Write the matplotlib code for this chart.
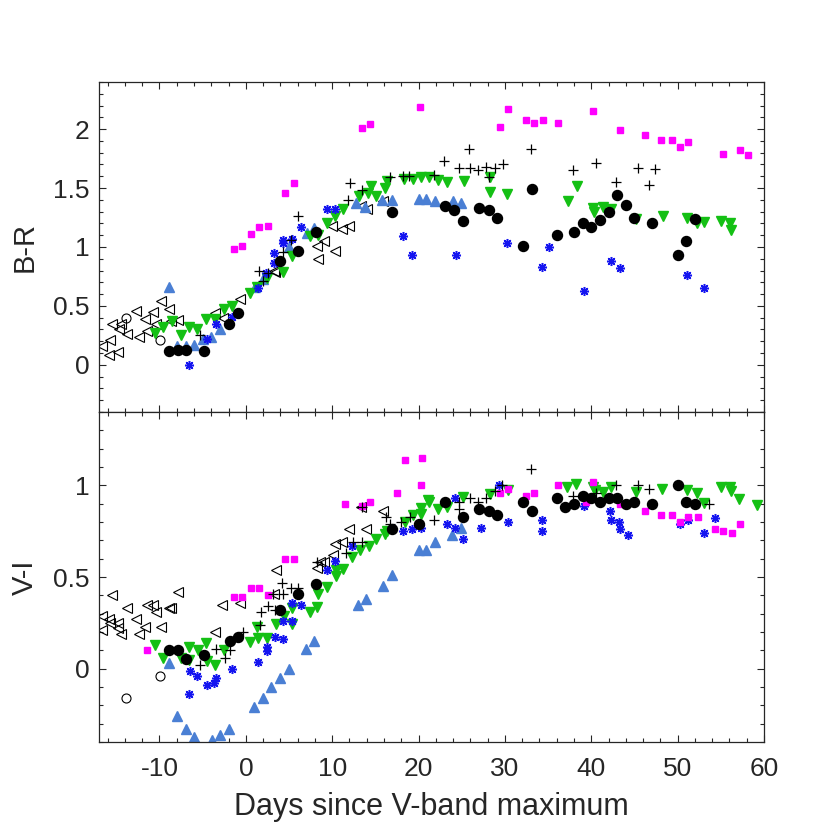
import matplotlib
matplotlib.use('Agg')
import matplotlib.pyplot as plt
from matplotlib.ticker import MultipleLocator, FormatStrFormatter

plt.rcParams['font.family'] = ['Liberation Sans', 'DejaVu Sans']
plt.rcParams['axes.unicode_minus'] = False

# ---- B-R panel ----
br_oc_x = [-13.9, -9.9]
br_oc_y = [0.40, 0.21]

br_lt_x = [-16.6, -15.7, -15.8, -14.8, -15.5, -14.5, -14.7, -13.75, -12.75, -11.7, -10.8, -12.4, -11.4,
           -10.4, -9.8, -8.9, -8.7, -7.8, -3.55, -2.7, -0.7, 3.4, 3.25, 8.2, 9.0, 10.3, 8.35, 10.0,
           11.1, 12.0, 13.3, 14.0, 15.9]
br_lt_y = [0.16, 0.21, 0.08, 0.11, 0.35, 0.35, 0.30, 0.26, 0.46, 0.39, 0.45, 0.24, 0.29,
           0.35, 0.54, 0.47, 0.37, 0.38, 0.44, 0.40, 0.56, 0.79, 0.80, 1.01, 1.05, 0.97, 0.90, 1.18,
           1.15, 1.18, 1.35, 1.32, 1.39]

br_bc_x = [-8.9, -7.9, -6.9, -4.9, -1.9, -0.9, 4.0, 6.0, 8.1, 16.9, 23.1, 24.1, 25.1, 27.0, 28.1, 29.1,
           32.1, 33.1, 36.0, 38.0, 39.0, 40.0, 41.0, 42.0, 43.0, 44.0, 45.0, 47.0, 50.0, 51.0, 52.0]
br_bc_y = [0.12, 0.13, 0.13, 0.12, 0.35, 0.44, 0.88, 0.97, 1.13, 1.30, 1.35, 1.31, 1.22, 1.33, 1.31, 1.25,
           1.01, 1.49, 1.10, 1.13, 1.20, 1.17, 1.23, 1.30, 1.44, 1.36, 1.25, 1.20, 0.93, 1.05, 1.24]

br_sq_x = [-1.4, -0.4, 0.6, 1.55, 2.55, 4.55, 5.55, 13.4, 14.4, 20.2, 29.4, 30.4, 32.4, 33.4, 34.4,
           36.2, 40.2, 43.3, 46.2, 48.1, 49.3, 50.3, 51.2, 55.2, 57.2, 58.2]
br_sq_y = [0.98, 1.01, 1.11, 1.17, 1.18, 1.46, 1.54, 2.01, 2.04, 2.19, 2.02, 2.17, 2.08, 2.05, 2.08,
           2.05, 2.15, 1.99, 1.95, 1.91, 1.91, 1.85, 1.89, 1.79, 1.82, 1.78]

br_gv_x = [-10.5, -9.6, -8.6, -7.45, -6.6, -5.6, -4.6, -3.6, -2.5, -1.6, 0.45, 1.25, 2.4, 4.25, 5.3,
           7.4, 8.4, 9.35, 10.35, 11.3, 13.1, 14.1, 15.1, 14.5, 16.1, 16.4, 18.3, 19.3, 20.3, 21.2,
           22.3, 23.3, 25.3, 28.3, 28.3, 30.2, 37.3, 38.3, 40.2, 40.3, 41.4, 42.3, 45.2, 48.3, 51.1,
           52.2, 53.1, 55.0, 56.1, 56.2]
br_gv_y = [0.27, 0.32, 0.37, 0.25, 0.32, 0.30, 0.39, 0.39, 0.47, 0.50, 0.61, 0.66, 0.74, 0.79, 0.92,
           1.09, 1.10, 1.20, 1.26, 1.32, 1.43, 1.46, 1.43, 1.52, 1.50, 1.56, 1.58, 1.58, 1.59, 1.59,
           1.57, 1.55, 1.56, 1.59, 1.47, 1.45, 1.39, 1.52, 1.33, 1.30, 1.34, 1.32, 1.24, 1.26, 1.25,
           1.20, 1.21, 1.22, 1.20, 1.14]

br_as_x = [-6.6, -4.55, -3.5, -1.65, 1.45, 2.3, 3.3, 3.3, 4.35, 4.35, 5.3, 6.35, 9.35, 10.35, 18.2,
           19.2, 24.3, 30.2, 34.3, 35.1, 39.1, 42.3, 43.3, 50.2, 51.1, 53.1]
br_as_y = [0.0, 0.22, 0.35, 0.41, 0.65, 0.78, 0.86, 0.95, 1.06, 1.03, 1.07, 1.17, 1.32, 1.32, 1.09,
           0.93, 0.93, 1.03, 0.83, 1.00, 0.63, 0.88, 0.82, 0.93, 0.76, 0.65]

br_lb_x = [-8.9, -7.95, -6.95, -5.95, -4.95, -4.0, -3.0, 1.05, 2.0, 4.95, 7.05, 7.9, 12.8, 13.8, 15.8,
           16.9, 20.0, 20.9, 21.9, 23.95, 24.95]
br_lb_y = [0.66, 0.16, 0.16, 0.17, 0.22, 0.24, 0.30, 0.66, 0.73, 1.00, 1.12, 1.16, 1.37, 1.34, 1.40,
           1.40, 1.41, 1.41, 1.39, 1.39, 1.37]

br_pl_x = [-5.35, 1.55, 1.95, 2.6, 4.25, 5.2, 6.05, 12.05, 13.4, 11.85, 16.75, 18.15, 18.9, 21.8, 22.9,
           24.7, 25.9, 26.9, 27.8, 28.8, 28.1, 29.8, 25.8, 33.0, 37.9, 40.6, 42.9, 45.4, 46.7, 47.4]
br_pl_y = [0.25, 0.80, 0.71, 0.78, 0.96, 1.06, 1.26, 1.54, 1.48, 1.40, 1.59, 1.60, 1.60, 1.61, 1.73,
           1.67, 1.67, 1.65, 1.68, 1.67, 1.59, 1.70, 1.83, 1.83, 1.65, 1.71, 1.55, 1.67, 1.53, 1.66]

# ---- V-I panel ----
vi_oc_x = [-13.9, -9.9]
vi_oc_y = [-0.16, -0.04]

vi_lt_x = [-16.7, -16.6, -15.8, -15.7, -14.8, -14.8, -14.4, -15.45, -13.75, -12.75, -12.35, -11.7,
           -11.4, -10.8, -10.4, -9.8, -8.9, -8.65, -7.85, -3.55, -2.8, -0.7, 3.45, 3.25, 8.2, 8.55,
           9.05, 10.05, 10.3, 11.1, 12.0, 13.9, 13.3, 15.9]
vi_lt_y = [0.21, 0.29, 0.27, 0.25, 0.25, 0.22, 0.19, 0.40, 0.33, 0.27, 0.19, 0.23,
           0.35, 0.35, 0.31, 0.23, 0.33, 0.33, 0.42, 0.20, 0.35, 0.36, 0.54, 0.41, 0.55, 0.58,
           0.58, 0.62, 0.68, 0.69, 0.76, 0.76, 0.88, 0.86]

vi_bc_x = [-8.9, -7.9, -6.9, -4.9, -1.85, -0.9, 4.0, 6.0, 8.1, 16.9, 20.0, 23.1, 25.1, 27.0, 28.1,
           29.1, 32.1, 33.1, 36.0, 37.0, 38.0, 39.0, 40.0, 41.0, 42.0, 43.0, 44.0, 45.0, 47.0, 50.0,
           51.0, 52.0]
vi_bc_y = [0.10, 0.10, 0.055, 0.075, 0.15, 0.175, 0.32, 0.41, 0.46, 0.76, 0.79, 0.91, 0.83, 0.87, 0.86,
           0.84, 0.91, 0.86, 0.93, 0.88, 0.90, 0.94, 0.93, 0.91, 0.93, 0.93, 0.90, 0.91, 0.90, 1.00,
           0.91, 0.90]

vi_sq_x = [-11.4, -1.4, -0.4, 0.6, 1.55, 2.55, 4.55, 5.55, 11.5, 13.4, 14.4, 17.45, 18.4, 20.4, 20.3,
           29.4, 30.4, 32.4, 33.4, 36.2, 39.4, 40.2, 43.3, 46.2, 48.1, 49.3, 50.3, 51.2, 52.3, 54.3,
           55.2, 56.3, 57.2]
vi_sq_y = [0.10, 0.39, 0.39, 0.44, 0.44, 0.40, 0.60, 0.60, 0.90, 0.89, 0.91, 0.96, 1.14, 1.15, 1.00,
           0.96, 0.98, 0.94, 0.96, 1.00, 0.91, 1.02, 0.90, 0.86, 0.84, 0.84, 0.80, 0.83, 0.83, 0.76,
           0.75, 0.74, 0.79]

vi_gv_x = [-10.5, -9.6, -7.55, -6.6, -6.6, -5.55, -4.55, -4.6, -3.6, -2.5, 0.45, 1.25, 1.45, 2.45,
           3.45, 4.4, 5.35, 5.35, 7.4, 8.25, 8.35, 9.35, 10.45, 10.45, 11.3, 12.3, 13.2, 14.3, 15.1,
           16.1, 16.3, 18.4, 19.4, 20.3, 20.3, 21.1, 21.2, 22.3, 23.3, 25.2, 28.3, 30.3, 37.2, 38.2,
           40.2, 40.4, 41.4, 42.3, 45.2, 48.2, 51.1, 52.2, 53.1, 55.0, 56.1, 56.2, 57.1, 59.2]
vi_gv_y = [0.13, 0.06, 0.06, 0.12, 0.045, 0.10, 0.04, 0.14, 0.02, 0.10, 0.145, 0.225, 0.17, 0.17,
           0.245, 0.29, 0.245, 0.33, 0.31, 0.335, 0.41, 0.445, 0.505, 0.54, 0.545, 0.61, 0.645, 0.67,
           0.71, 0.735, 0.75, 0.80, 0.84, 0.875, 0.845, 0.92, 0.91, 0.87, 0.88, 0.935, 0.955, 0.975,
           0.99, 1.01, 0.99, 0.975, 0.965, 0.99, 0.965, 0.98, 0.975, 0.96, 0.905, 0.99, 0.99, 0.97,
           0.925, 0.895]

vi_as_x = [-6.55, -6.5, -5.6, -4.55, -3.65, -3.5, -1.65, 1.45, 2.4, 2.5, 3.35, 4.35, 4.35, 5.3, 5.3,
           6.35, 9.35, 10.3, 12.3, 18.2, 19.2, 20.3, 24.25, 23.25, 24.25, 25.2, 27.2, 29.3, 30.3, 34.3,
           34.3, 39.1, 42.2, 42.3, 43.2, 43.3, 44.2, 50.3, 51.2, 53.1, 54.3]
vi_as_y = [-0.14, -0.01, -0.04, -0.09, -0.08, -0.05, 0.0, 0.035, 0.12, 0.095, 0.175, 0.26, 0.16, 0.26,
           0.36, 0.35, 0.54, 0.59, 0.67, 0.75, 0.76, 0.77, 0.93, 0.79, 0.77, 0.71, 0.77, 1.0, 0.80,
           0.81, 0.75, 0.89, 0.86, 0.81, 0.80, 0.76, 0.73, 0.79, 0.81, 0.74, 0.82]

vi_lb_x = [-8.9, -7.95, -6.95, -5.95, -3.95, -3.0, -2.0, 1.0, 2.0, 2.95, 4.0, 5.0, 6.95, 7.95, 12.95,
           13.95, 15.9, 16.9, 20.0, 20.9, 21.9, 23.9, 24.9]
vi_lb_y = [0.03, -0.26, -0.33, -0.37, -0.39, -0.36, -0.33, -0.21, -0.16, -0.10, -0.05, 0.0, 0.11, 0.15,
           0.35, 0.38, 0.45, 0.51, 0.65, 0.65, 0.69, 0.73, 0.77]

vi_pl_x = [-5.35, -3.4, -2.45, -1.8, -0.3, 1.6, 1.8, 2.6, 3.35, 3.15, 4.15, 4.35, 5.2, 6.05, 8.25, 11.6,
           12.4, 13.4, 13.4, 16.2, 16.75, 18.0, 19.0, 21.8, 24.7, 24.7, 25.9, 26.9, 27.8, 28.8, 29.7,
           33.0, 37.9, 40.6, 42.9, 45.4, 46.7, 53.6]
vi_pl_y = [0.02, 0.11, 0.06, 0.10, 0.20, 0.24, 0.31, 0.34, 0.32, 0.41, 0.47, 0.41, 0.44, 0.44, 0.58,
           0.63, 0.69, 0.69, 0.88, 0.83, 0.79, 0.80, 0.83, 0.81, 0.91, 0.87, 0.93, 0.91, 0.93, 0.97,
           1.00, 1.09, 0.94, 0.96, 1.00, 1.00, 0.98, 0.90]

dark = '#262626'
green = '#14c014'
lblue = '#4a7fd4'
blue = '#1414f0'
magenta = '#ff00ff'


def draw(ax, oc, lt, lb, gv, ast, sq, pl, bc):
	ax.plot(oc[0], oc[1], 'o', ms=6.5, mfc='none', mec='k', mew=0.8, ls='none')
	ax.plot(lt[0], lt[1], '<', ms=6.5, mfc='none', mec='k', mew=0.8, ls='none')
	ax.plot(lb[0], lb[1], '^', ms=7, color=lblue, mec=lblue, ls='none')
	ax.plot(gv[0], gv[1], 'v', ms=7, color=green, mec=green, ls='none')
	ax.plot(ast[0], ast[1], marker=(8, 2, 0), ms=6.5, mec=blue, mew=1.1, ls='none')
	ax.plot(sq[0], sq[1], 's', ms=4.8, color=magenta, mec=magenta, ls='none')
	ax.plot(pl[0], pl[1], '+', ms=7, mec='k', mew=0.9, ls='none')
	ax.plot(bc[0], bc[1], 'o', ms=7.2, color='k', ls='none')


def style(ax):
	ax.set_xlim(-17, 60)
	ax.xaxis.set_major_locator(MultipleLocator(10))
	ax.xaxis.set_minor_locator(MultipleLocator(2))
	ax.tick_params(which='both', direction='in', top=True, right=True, colors=dark, labelsize=19)
	ax.tick_params(which='major', length=5, width=0.8)
	ax.tick_params(which='minor', length=3, width=0.8)
	ax.tick_params(axis='x', pad=11)
	ax.tick_params(axis='y', pad=7)
	ax.yaxis.set_major_formatter(FormatStrFormatter('%g'))
	for s in ax.spines.values():
		s.set_color(dark)
		s.set_linewidth(0.9)


fig = plt.figure(figsize=(8.3, 8.24), dpi=100)
ax1 = fig.add_axes([0.1193, 0.5, 0.8012, 0.4005])
ax2 = fig.add_axes([0.1193, 0.0995, 0.8012, 0.4005])

draw(ax1, (br_oc_x, br_oc_y), (br_lt_x, br_lt_y), (br_lb_x, br_lb_y), (br_gv_x, br_gv_y),
	(br_as_x, br_as_y), (br_sq_x, br_sq_y), (br_pl_x, br_pl_y), (br_bc_x, br_bc_y))
draw(ax2, (vi_oc_x, vi_oc_y), (vi_lt_x, vi_lt_y), (vi_lb_x, vi_lb_y), (vi_gv_x, vi_gv_y),
	(vi_as_x, vi_as_y), (vi_sq_x, vi_sq_y), (vi_pl_x, vi_pl_y), (vi_bc_x, vi_bc_y))

style(ax1)
style(ax2)

ax1.set_ylim(-0.4, 2.4)
ax1.yaxis.set_major_locator(MultipleLocator(0.5))
ax1.yaxis.set_minor_locator(MultipleLocator(0.1))
ax1.tick_params(axis='x', labelbottom=False)
ax1.set_ylabel('B-R', fontsize=21, color=dark, labelpad=10)

ax2.set_ylim(-0.4, 1.4)
ax2.yaxis.set_major_locator(MultipleLocator(0.5))
ax2.yaxis.set_minor_locator(MultipleLocator(0.1))
ax2.set_ylabel('V-I', fontsize=21, color=dark, labelpad=10)
ax2.set_xlabel('Days since V-band maximum', fontsize=22, color=dark, labelpad=8)

fig.savefig('out.png', dpi=100)
